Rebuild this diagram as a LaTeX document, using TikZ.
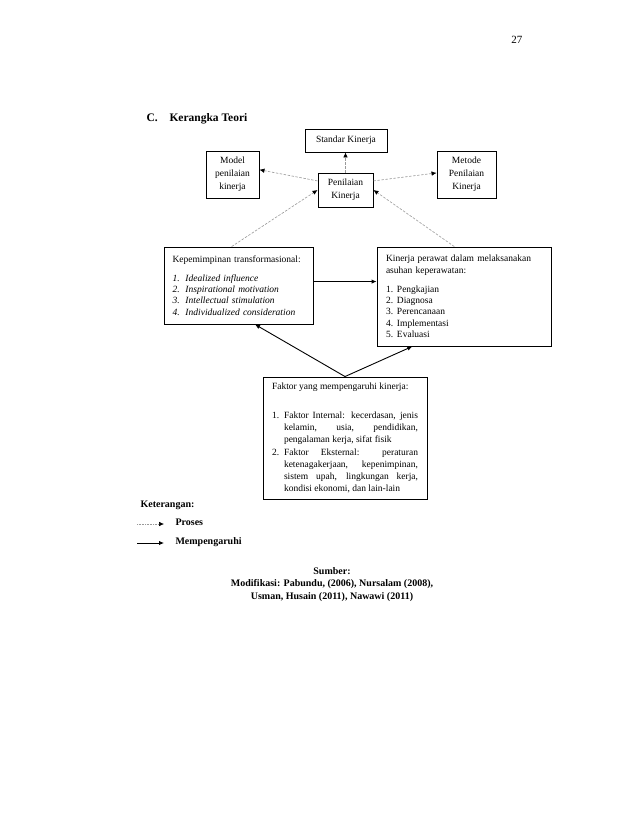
\documentclass[tikz,border=0pt]{standalone}
\usepackage{fontspec}
\setmainfont{Liberation Serif}
\usetikzlibrary{arrows.meta}
\begin{document}
\begin{tikzpicture}[x=1pt,y=-1pt,
  box/.style={draw=black, line width=0.9pt, inner ysep=2pt, font=\fontsize{9.5}{11.3}\selectfont},
  small/.style={box, inner sep=0pt, align=center, font=\fontsize{9.5}{12.8}\selectfont},
  proc/.style={draw=black!40, line width=0.6pt, dash pattern=on 2.5pt off 1.5pt, -{Latex[length=5pt,width=4.5pt,color=black]}},
  procleg/.style={draw=black!40, line width=0.6pt, dash pattern=on 0.8pt off 0.8pt, -{Latex[length=5pt,width=4.5pt,color=black]}},
  infl/.style={draw=black, line width=0.9pt, -{Latex[length=5pt,width=4.5pt]}},
  bold/.style={font=\bfseries\fontsize{10}{12.5}\selectfont}
]
\fill[white] (0,0) rectangle (638,826);
\path[use as bounding box] (0,0) rectangle (638,826);

\node[anchor=base east, font=\fontsize{11}{13}\selectfont] (page) at (526,44) {27};
\node[anchor=base west, font=\bfseries\fontsize{11.5}{13}\selectfont] (title) at (143,122) {\makebox[23pt][l]{C.}Kerangka Teori};

\node[small, minimum width=82pt, minimum height=23pt] (std) at (346,140.5) {Standar Kinerja};
\node[small, minimum width=53pt, minimum height=47pt] (model) at (232.5,174.5) {Model\\penilaian\\kinerja};
\node[small, minimum width=55pt, minimum height=34pt] (pen) at (345.5,190) {Penilaian\\Kinerja};
\node[small, minimum width=59pt, minimum height=47pt] (met) at (466.5,174.5) {Metode\\Penilaian\\Kinerja};

\node[box, text width=132pt, inner xsep=8.5pt, minimum height=77pt, align=left] (kep) at (238.5,285.5)
 {Kepemimpinan transformasional:\\[7.8pt]
  \itshape\makebox[13pt][l]{1.}Idealized influence\\
  \makebox[13pt][l]{2.}Inspirational motivation\\
  \makebox[13pt][l]{3.}Intellectual stimulation\\
  \makebox[13pt][l]{4.}Individualized consideration};

\node[box, text width=156pt, inner xsep=9pt, minimum height=99pt, align=left] (kin) at (464,296.5)
 {Kinerja perawat dalam melaksanakan\\asuhan keperawatan:\\[7.8pt]
  \makebox[11pt][l]{1.}Pengkajian\\
  \makebox[11pt][l]{2.}Diagnosa\\
  \makebox[11pt][l]{3.}Perencanaan\\
  \makebox[11pt][l]{4.}Implementasi\\
  \makebox[11pt][l]{5.}Evaluasi};

\node[box, text width=146pt, inner xsep=9pt, minimum height=122pt, align=justify, font=\fontsize{9.5}{12.2}\selectfont] (fak) at (345,438)
 {Faktor yang mempengaruhi kinerja:\par\vspace{17pt}
  \hangindent=12pt\hangafter=1\noindent\makebox[12pt][l]{1.}Faktor Internal: kecerdasan, jenis\linebreak
  kelamin, usia, pendidikan,\linebreak
  pengalaman kerja, sifat fisik\par
  \hangindent=12pt\hangafter=1\noindent\makebox[12pt][l]{2.}Faktor Eksternal: peraturan\linebreak
  ketenagakerjaan, kepenimpinan,\linebreak
  sistem upah, lingkungan kerja,\linebreak
  kondisi ekonomi, dan lain-lain\par\vspace{-10pt}};

\draw[proc] (pen.north) -- (pen.north |- std.south);
\draw[proc] (pen.162) -- (model.10);
\draw[proc] (pen.18) -- (met.177);
\draw[proc] (kep.100) -- (pen.west);
\draw[proc] (kin.101) -- (pen.east);
\draw[infl] (kep.3) -- (kep.3 -| kin.west);
\draw[infl] (fak.north) -- (kep.-67);
\draw[infl] (fak.north) -- (kin.-136);

\node[anchor=base west, bold] (ket) at (137,507) {Keterangan:};
\coordinate (pa) at (137,524);
\coordinate (pb) at (164,524);
\draw[procleg] (pa) -- (pb);
\node[anchor=west, bold] (tpro) at (172,522.5) {Proses};
\coordinate (ma) at (137,543);
\coordinate (mb) at (164,543);
\draw[infl] (ma) -- (mb);
\node[anchor=west, bold] (tmem) at (172,542) {Mempengaruhi};

\node[bold, align=center] (src) at (332,584.5) {Sumber:\\Modifikasi: Pabundu, (2006), Nursalam (2008),\\Usman, Husain (2011), Nawawi (2011)};
\end{tikzpicture}
\end{document}
